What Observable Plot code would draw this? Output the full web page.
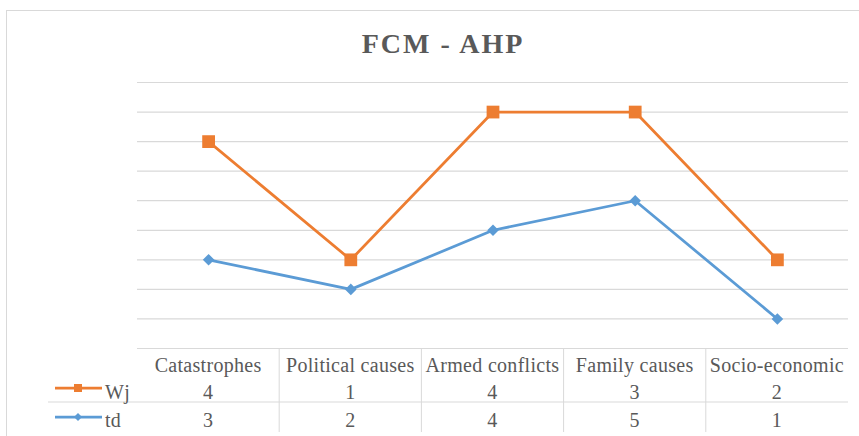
<!DOCTYPE html>
<html><head><meta charset="utf-8">
<script src="https://cdn.jsdelivr.net/npm/d3@7"></script>
<script src="https://cdn.jsdelivr.net/npm/@observablehq/plot@0.6"></script>
<style>
body{margin:0;background:#fff;}
#wrap{position:relative;width:859px;height:436px;overflow:hidden;background:#fff;}
#border{position:absolute;left:6px;top:10px;width:900px;height:500px;border:1px solid #d9d9d9;box-sizing:border-box;}
#chart{position:absolute;left:0;top:0;}
.lbl{position:absolute;white-space:nowrap;line-height:1;color:#595959;font-size:20px;letter-spacing:0.3px;}
.ctr{transform:translate(-50%,-50%);}
.lft{transform:translate(0,-50%);}
.ttl{font-size:28px;font-weight:bold;letter-spacing:2px;}
</style></head><body>
<div id="wrap"><div id="border"></div><div id="chart"></div></div>
<script>
const title = "FCM - AHP";
const categories = ["Catastrophes", "Political causes", "Armed conflicts", "Family causes", "Socio-economic"];
const seriesNames = ["Wj", "td"];
const wj = [4, 1, 4, 3, 2];
const td = [3, 2, 4, 5, 1];
const yTicks = [0, 1, 2, 3, 4, 5, 6, 7, 8, 9];

const ORANGE = "#ED7D31", BLUE = "#5B9BD5", GRID = "#d9d9d9";

// stacked line chart: td at the bottom, Wj stacked on top
const tdRows = categories.map((c, i) => ({pos: i + 0.5, cat: c, value: td[i], top: td[i]}));
const wjRows = categories.map((c, i) => ({pos: i + 0.5, cat: c, value: wj[i], top: td[i] + wj[i]}));

function tableDecor(index, scales, values, dims) {
  const x = scales.x, y = scales.y;
  const y0 = y(0);
  const g = d3.create("svg:g");
  for (let k = 1; k < categories.length; k++) {
    g.append("line").attr("x1", x(k)).attr("x2", x(k)).attr("y1", y0).attr("y2", y0 + 84)
      .attr("stroke", GRID).attr("stroke-width", 1);
  }
  g.append("line").attr("x1", 48).attr("x2", x(categories.length)).attr("y1", y0 + 54).attr("y2", y0 + 54)
    .attr("stroke", GRID).attr("stroke-width", 1);
  // legend keys
  const keys = [
    {color: ORANGE, yy: y0 + 40, sym: d3.symbolSquare, size: 64},
    {color: BLUE, yy: y0 + 69, sym: d3.symbolDiamond2, size: 42}
  ];
  for (const k of keys) {
    g.append("line").attr("x1", 55).attr("x2", 102).attr("y1", k.yy).attr("y2", k.yy)
      .attr("stroke", k.color).attr("stroke-width", 2.75);
    g.append("path").attr("d", d3.symbol(k.sym, k.size)()).attr("transform", `translate(78,${k.yy})`)
      .attr("fill", k.color);
  }
  return g.node();
}

const svg = Plot.plot({
  width: 859,
  height: 436,
  marginLeft: 137,
  marginRight: 11,
  marginTop: 82,
  marginBottom: 88,
  x: {type: "linear", domain: [0, categories.length], axis: null},
  y: {domain: [0, 9], axis: null},
  style: {background: "transparent", overflow: "visible"},
  marks: [
    Plot.ruleY(yTicks, {stroke: GRID, strokeWidth: 1.2}),
    Plot.line(tdRows, {x: "pos", y: "top", stroke: BLUE, strokeWidth: 2.75}),
    Plot.line(wjRows, {x: "pos", y: "top", stroke: ORANGE, strokeWidth: 2.75}),
    Plot.dot(tdRows, {x: "pos", y: "top", symbol: "diamond2", r: 5.2, fill: BLUE}),
    Plot.dot(wjRows, {x: "pos", y: "top", symbol: "square", r: 7.2, fill: ORANGE}),
    tableDecor
  ]
});

const chart = document.getElementById("chart");
chart.appendChild(svg);

// text of the data table, placed with the plot's own scales
const sx = svg.scale("x"), sy = svg.scale("y");
const y0 = sy.apply(0);
const wrap = d3.select("#wrap");
function label(txt, x, y, cls) {
  wrap.append("div").attr("class", "lbl " + cls)
    .attr("style", `left:${x}px;top:${y}px;font-family:'Liberation Serif';`)
    .text(txt);
}
categories.forEach((c, i) => label(c, sx.apply(i + 0.5), y0 + 17, "ctr"));
wjRows.forEach(d => label(String(d.value), sx.apply(d.pos), y0 + 43.5, "ctr"));
tdRows.forEach(d => label(String(d.value), sx.apply(d.pos), y0 + 71.5, "ctr"));
label(seriesNames[0], sx.apply(0) - 32, y0 + 43.5, "lft");
label(seriesNames[1], sx.apply(0) - 32, y0 + 71.5, "lft");
label(title, 443, 43.5, "ctr ttl");
</script>
</body></html>
